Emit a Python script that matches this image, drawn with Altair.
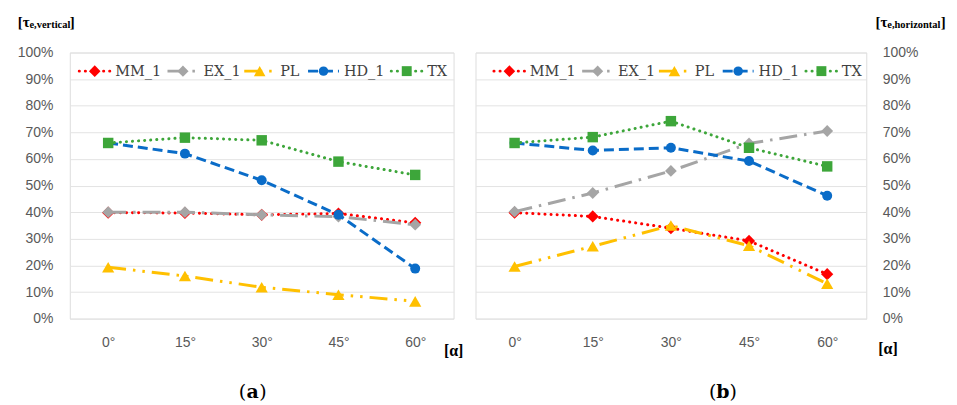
import altair as alt
import pandas as pd

# ---------------- data ----------------
angles = ["0°", "15°", "30°", "45°", "60°"]
series = ["MM_1", "EX_1", "PL", "HD_1", "TX"]
y_ticks = [0, 10, 20, 30, 40, 50, 60, 70, 80, 90, 100]

# panel (a)  – tau e,vertical  [%]
a_MM = [39.8, 39.7, 39.0, 39.5, 36.0]
a_EX = [40.0, 40.0, 39.0, 38.3, 35.3]
a_PL = [19.3, 16.0, 11.8, 9.0, 6.5]
a_HD = [66.0, 62.0, 52.0, 39.0, 18.8]
a_TX = [66.0, 68.0, 67.0, 59.0, 54.0]

# panel (b)  – tau e,horizontal  [%]
b_MM = [39.8, 38.4, 34.0, 29.2, 16.7]
b_EX = [40.2, 47.2, 55.5, 65.8, 70.5]
b_PL = [19.6, 27.2, 35.0, 27.4, 13.1]
b_HD = [66.0, 63.2, 64.2, 59.2, 46.2]
b_TX = [66.0, 68.2, 74.2, 64.2, 57.2]

panel_a = dict(zip(series, [a_MM, a_EX, a_PL, a_HD, a_TX]))
panel_b = dict(zip(series, [b_MM, b_EX, b_PL, b_HD, b_TX]))

# ---------------- styles ----------------
STY = {
    "MM_1": dict(color="#FF0000", dash=[0.1, 6], cap="round", shape="diamond", size=150, w=3),
    "EX_1": dict(color="#A5A5A5", dash=[18, 7, 2.5, 7], cap="butt", shape="diamond", size=140, w=3),
    "PL":   dict(color="#FFC000", dash=[18, 7, 2.5, 7, 2.5, 7], cap="butt", shape="triangle-up", size=150, w=3),
    "HD_1": dict(color="#0A6CC8", dash=[10, 5], cap="butt", shape="circle", size=100, w=3),
    "TX":   dict(color="#3DA63A", dash=[0.1, 6], cap="round", shape="square", size=110, w=3),
}

W_A, W_B, H = 385, 392, 267
LEG_X = [25, 113.5, 190.5, 254.5, 338]
LEG_Y = 18.7
SANS = "Liberation Sans"
SERIF = "Liberation Serif"
LEG_FONT = "DejaVu Serif"
LAB_COL = "#595959"


def txt(s, x, y, font=SERIF, size=15, bold=True, align="left", color="#000000"):
    return alt.Chart(pd.DataFrame({"t": [s]})).mark_text(
        font=font, fontSize=size, fontWeight="bold" if bold else "normal",
        align=align, baseline="middle", color=color
    ).encode(text="t:N", x=alt.value(x), y=alt.value(y))


def panel(vals, width, orient, leg_shift, sub, letter, alpha_x, alpha_y, letter_x, title_x, close_dx):
    y_axis = alt.Axis(orient=orient, values=y_ticks, labelExpr="datum.value + '%'",
                      domain=False, ticks=False, grid=True, gridColor="#E3E3E3",
                      gridWidth=1, labelPadding=17 if orient == "left" else 16,
                      labelFont=SANS, labelFontSize=14, labelColor=LAB_COL,
                      title=None)
    x_axis = alt.Axis(domain=False, ticks=False, grid=False, labelAngle=0,
                      labelBaseline="middle", labelPadding=23.7,
                      labelFont=SANS, labelFontSize=14, labelColor=LAB_COL,
                      title=None)
    layers = []
    for s in series:
        st = STY[s]
        df = pd.DataFrame({"angle": angles, "value": vals[s]})
        base = alt.Chart(df).encode(
            x=alt.X("angle:N", sort=angles, axis=x_axis, scale=alt.Scale(padding=0.5)),
            y=alt.Y("value:Q", scale=alt.Scale(domain=[0, 100], nice=False), axis=y_axis),
        )
        layers.append(base.mark_line(color=st["color"], strokeWidth=st["w"],
                                     strokeDash=st["dash"], strokeCap=st["cap"]))
        layers.append(base.mark_point(filled=True, opacity=1, color=st["color"],
                                      shape=st["shape"], size=st["size"]))
    # legend (inside the plot, top)
    for i, s in enumerate(series):
        st = STY[s]
        cx = LEG_X[i] + leg_shift
        one = pd.DataFrame({"k": [s]})
        layers.append(alt.Chart(one).mark_rule(
            color=st["color"], strokeWidth=st["w"], strokeDash=st["dash"], strokeCap=st["cap"]
        ).encode(x=alt.value(cx - 15.5), x2=alt.value(cx + 15.5), y=alt.value(LEG_Y)))
        layers.append(alt.Chart(one).mark_point(
            filled=True, opacity=1, color=st["color"], shape=st["shape"], size=st["size"] * 0.9
        ).encode(x=alt.value(cx), y=alt.value(LEG_Y)))
        layers.append(alt.Chart(one).mark_text(
            font=LEG_FONT, fontSize=14.5, align="left", baseline="middle", color="#404040"
        ).encode(text="k:N", x=alt.value(cx + 20.5), y=alt.value(LEG_Y + 0.5)))
    # axis titles
    layers.append(txt("[τ", title_x, -30.5, size=15))
    layers.append(txt(sub, title_x + 11.8, -28, size=10.5))
    layers.append(txt("]", title_x + close_dx, -30.5, size=15))
    layers.append(txt("[α]", alpha_x, alpha_y, size=16))
    # panel letter
    layers.append(txt("(", letter_x - 6.6, H + 73.5, font="DejaVu Serif", size=19, bold=False, align="right"))
    layers.append(txt(letter, letter_x, H + 73.5, font="DejaVu Serif", size=19, bold=True, align="center"))
    layers.append(txt(")", letter_x + 6.6, H + 73.5, font="DejaVu Serif", size=19, bold=False, align="left"))
    return alt.layer(*layers).properties(width=width, height=H)


left = panel(panel_a, W_A, "left", 0, "e,vertical", "a",
             alpha_x=375.3, alpha_y=H + 32, letter_x=183.5, title_x=-52.3, close_dx=52.3)
right = panel(panel_b, W_B, "right", 9, "e,horizontal", "b",
              alpha_x=404, alpha_y=H + 30, letter_x=248.2, title_x=401.3, close_dx=65.4)

chart = alt.hconcat(left, right, spacing=22, bounds="flush").properties(
    padding={"left": 8, "top": 6, "right": 2, "bottom": 0}
).configure_view(
    stroke="#ABABAB", strokeWidth=1.5
).configure(background="white")

chart.save("out.html", embed_options={"renderer": "svg", "actions": False})
